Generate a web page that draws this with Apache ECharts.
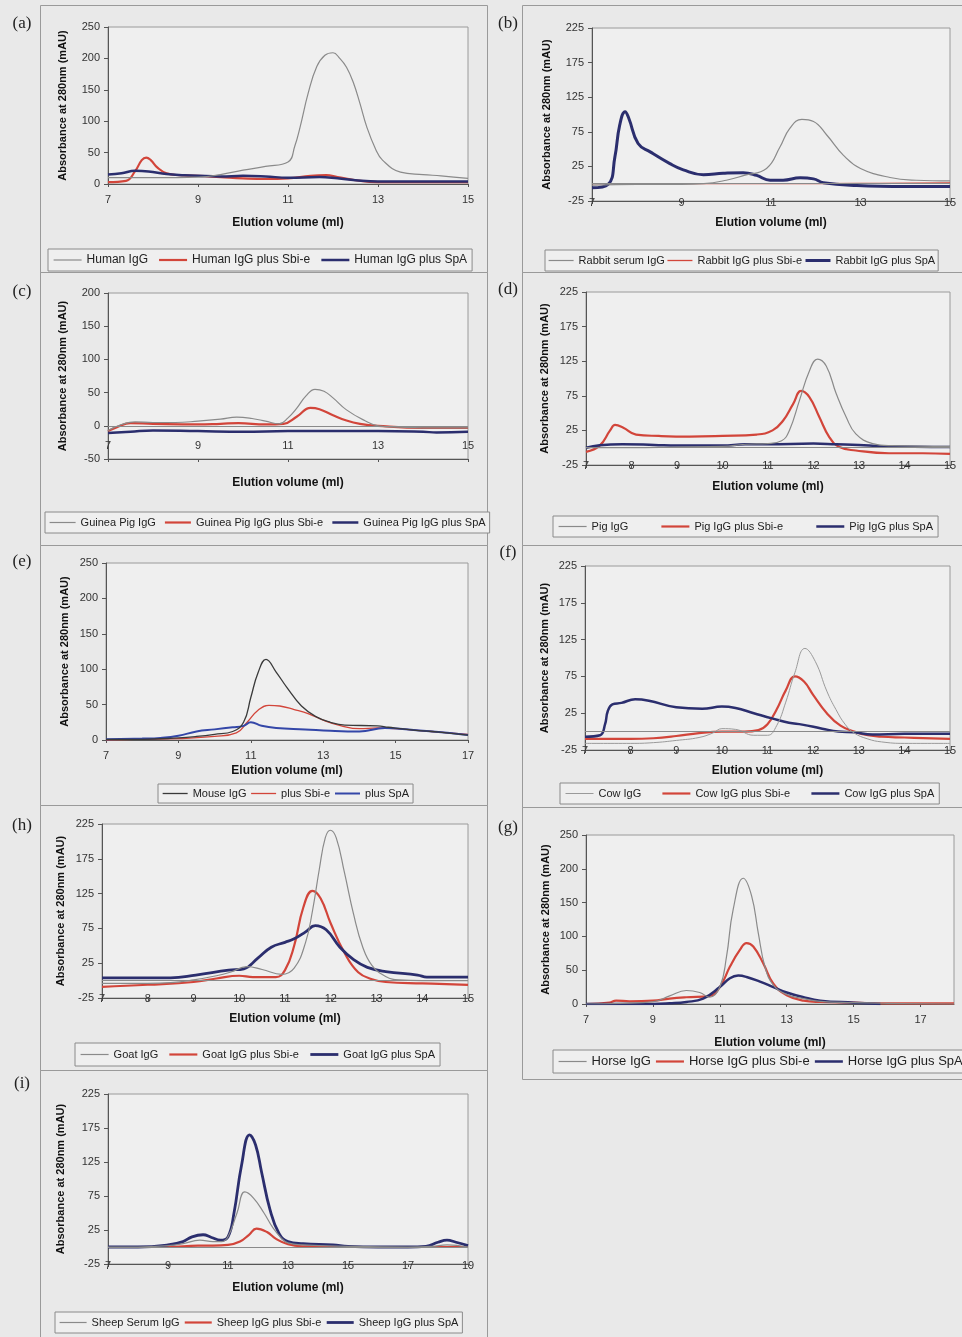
<!DOCTYPE html>
<html><head><meta charset="utf-8">
<script src="https://cdn.jsdelivr.net/npm/echarts@6/dist/echarts.min.js"></script>
<style>html,body{margin:0;padding:0;background:#e9e9e9;} #c{width:962px;height:1337px;}</style>
</head><body><div id="c"></div>
<script>
// ---------- tick labels ----------
const yTicks0to250 = [0, 50, 100, 150, 200, 250];
const yTicksM25to225 = [-25, 25, 75, 125, 175, 225];
const yTicksM50to200 = [-50, 0, 50, 100, 150, 200];
const xTicks7to15 = [7, 9, 11, 13, 15];
const xTicks7to15by1 = [7, 8, 9, 10, 11, 12, 13, 14, 15];
const xTicks7to17 = [7, 9, 11, 13, 15, 17];
const xTicks7to19 = [7, 9, 11, 13, 15, 17, 19];

// ---------- series names ----------
const aNames = ['Human IgG', 'Human IgG plus Sbi-e', 'Human IgG plus SpA'];
const bNames = ['Rabbit serum IgG', 'Rabbit IgG plus Sbi-e', 'Rabbit IgG plus SpA'];
const cNames = ['Guinea Pig IgG', 'Guinea Pig IgG plus Sbi-e', 'Guinea Pig IgG plus SpA'];
const dNames = ['Pig IgG', 'Pig IgG plus Sbi-e', 'Pig IgG plus SpA'];
const eNames = ['Mouse IgG', 'plus Sbi-e', 'plus SpA'];
const fNames = ['Cow IgG', 'Cow IgG plus Sbi-e', 'Cow IgG plus SpA'];
const hNames = ['Goat IgG', 'Goat IgG plus Sbi-e', 'Goat IgG plus SpA'];
const gNames = ['Horse IgG', 'Horse IgG plus Sbi-e', 'Horse IgG plus SpA'];
const iNames = ['Sheep Serum IgG', 'Sheep IgG plus Sbi-e', 'Sheep IgG plus SpA'];

// ---------- values [elution volume (ml), absorbance (mAU)] ----------
const a_igg = [[7,10],[8,10],[9,11],[9.5,15],[10,22],[10.5,28],[11,35],[11.15,60],[11.27,91],[11.45,145],[11.64,187],[11.82,205],[12,209],[12.15,200],[12.3,186],[12.45,162],[12.6,128],[12.75,91],[12.95,55],[13.1,38],[13.5,19],[14,15],[14.4,13],[15,9]];
const a_sbi = [[7,3],[7.4,5],[7.6,20],[7.75,38],[7.85,42],[7.95,38],[8.1,26],[8.3,17],[8.6,14],[9,13],[9.5,11],[10,9],[10.5,8],[11,9],[11.5,13],[11.85,14],[12.1,11],[12.5,6],[13,3],[14,3],[15,3]];
const a_spa = [[7,15],[7.3,17],[7.6,21],[7.9,20],[8.3,16],[8.7,14],[9,13],[9.5,12],[10,13],[10.5,12],[11,10],[11.7,11],[12.1,9],[12.5,6],[13,4],[14,4],[15,4]];

const b_igg = [[7,-2],[8,-1],[9,-1],[9.5,0],[10,5],[10.4,12],[10.9,22],[11.2,53],[11.42,80],[11.69,93],[11.95,90],[12.25,70],[12.62,41],[13,22],[13.66,9],[14.25,5],[15,4]];
const b_sbi = [[7,0],[9,0],[11,0],[13,0.5],[15,1]];
const b_spa = [[7,-6],[7.36,-1],[7.51,38],[7.62,85],[7.74,104],[7.82,95],[8.03,58],[8.3,46],[8.74,29],[9.04,20],[9.49,13],[9.93,15],[10.38,16],[10.68,12],[10.98,5],[11.27,5],[11.65,8.5],[11.95,7],[12.17,1.5],[12.92,-2.5],[14,-4],[15,-4]];

const c_igg = [[7,-7],[7.3,2],[7.6,6],[8,5],[8.5,5],[9,7],[9.5,10],[9.86,13],[10.2,11],[10.5,7],[10.8,3],[11,12],[11.2,27],[11.4,45],[11.6,55],[11.8,52],[12,42],[12.3,24],[12.7,8],[13,0],[13.5,-2],[14,-3],[15,-3]];
const c_sbi = [[7,-8],[7.2,-2],[7.5,4],[8,3],[9,2],[9.5,3],[9.9,4],[10.5,2],[10.9,3],[11.2,14],[11.5,27],[11.7,25],[12,16],[12.3,8],[12.6,3],[13,0],[14,-3],[15,-3]];
const c_spa = [[7,-11],[7.5,-9],[8,-7],[9,-8],[10,-9],[11,-8],[12,-8],[13,-8],[14,-9],[14.3,-10],[15,-9]];

const d_igg = [[7,0],[8,0],[9,1],[10,2],[10.5,5],[11,6],[11.3,10],[11.47,25],[11.69,68],[11.91,111],[12.09,128],[12.28,118],[12.5,78],[12.72,44],[12.93,20],[13.3,6],[13.7,3],[15,2]];
const d_sbi = [[7,-6],[7.3,3],[7.53,25],[7.64,33],[7.82,29],[8.1,19],[8.6,17],[9.28,16],[10,17],[10.75,19],[11.1,25],[11.33,39],[11.55,63],[11.73,82],[11.91,73],[12.13,44],[12.35,15],[12.57,1],[12.93,-4],[13.66,-8],[14.4,-8],[15,-9]];
const d_spa = [[7,0],[7.3,3.5],[7.8,5],[8.5,4],[9,3],[10,3],[10.5,5],[11,5],[12,6],[12.5,5],[13,4],[13.5,2],[15,1]];

const e_igg = [[7,1],[8,1],[9,3],[9.5,5],[10,8],[10.5,12],[10.8,25],[11,60],[11.2,95],[11.42,114],[11.7,96],[12,74],[12.4,48],[12.8,33],[13.2,25],[13.6,21],[14.5,20],[14.8,18],[15.5,14],[16,12],[17,7]];
const e_sbi = [[7,0],[8,1],[9,2],[10,5],[10.6,10],[10.9,25],[11.2,42],[11.5,49],[11.8,48],[12.2,43],[12.6,37],[13,28],[13.5,20],[14,16],[14.5,17],[15,16],[16,12],[17,8]];
const e_spa = [[7,1],[8,2],[8.5,3],[9,6],[9.5,12],[10,15],[10.5,18],[10.8,20],[11,25],[11.3,20],[11.7,17],[12.5,15],[13.2,13],[14,12],[14.7,17],[15.5,14],[16.5,10],[17,7]];

const f_igg = [[7,-16],[8,-16],[8.5,-15],[9,-12],[9.5,-8],[9.8,-2],[10,4],[10.3,3],[10.7,-5],[11,-5],[11.2,8],[11.4,40],[11.6,80],[11.82,113],[12.05,95],[12.3,55],[12.5,30],[12.7,10],[12.9,-2],[13.2,-10],[13.5,-14],[14,-16],[15,-16]];
const f_sbi = [[7,-10],[8,-10],[8.5,-9],[9,-6],[9.5,-2],[10,0],[10.5,0],[10.8,2],[11,10],[11.2,30],[11.4,56],[11.6,75],[11.8,68],[12,50],[12.3,25],[12.6,8],[12.9,0],[13.2,-5],[13.5,-7],[14,-8],[15,-10]];
const f_spa = [[7,-7],[7.33,-5],[7.44,10],[7.5,28],[7.6,37],[7.8,39],[8.1,44],[8.4,42],[9,33],[9.57,31],[10,34],[10.3,32],[10.7,25],[11.1,18],[11.47,12],[11.76,9.5],[12.2,4],[12.55,0],[12.9,-1],[13.3,-4],[14,-3],[15,-3]];

const h_igg = [[7,-4],[8,-4],[8.5,-3],[9,1],[9.5,7],[9.8,12],[10.17,20],[10.5,16],[10.93,9],[11.2,18],[11.45,55],[11.6,100],[11.75,160],[11.88,205],[11.99,216],[12.12,205],[12.3,155],[12.5,95],[12.7,48],[12.9,22],[13.2,6],[13.5,1],[14,0],[15,0]];
const h_sbi = [[7,-9],[8,-6],[9,-2],[9.5,3],[10,7],[10.3,5],[10.8,5],[11,15],[11.2,50],[11.4,105],[11.6,129],[11.78,118],[12,82],[12.3,40],[12.6,12],[12.9,2],[13.2,-2],[14,-4],[15,-6]];
const h_spa = [[7,4],[8.5,4],[9.05,8],[9.77,15],[10.1,17],[10.4,32],[10.7,48],[11,55],[11.2,60],[11.45,70],[11.66,79],[11.9,73],[12.2,48],[12.5,30],[12.8,19],[13.2,13],[13.9,8],[14.1,5],[15,5]];

const g_igg = [[7,0],[8,1],[9,3],[9.5,12],[10,20],[10.4,17],[10.7,10],[11,25],[11.2,70],[11.4,140],[11.7,186],[11.95,160],[12.15,105],[12.35,55],[12.6,28],[13,14],[13.5,8],[14,4],[15,2],[16,1],[18,0]];
const g_sbi = [[7,0],[7.7,2],[7.9,5],[8.3,4],[9,5],[9.5,8],[10,10],[10.7,12],[11,25],[11.3,55],[11.6,80],[11.8,90],[12,85],[12.3,60],[12.6,30],[13,13],[13.5,5],[14,3],[15,2],[16,1],[18,1]];
const g_spa = [[7,0],[9,0],[9.5,1],[10,3],[10.5,8],[11,25],[11.3,38],[11.55,42],[11.8,40],[12.2,33],[12.6,25],[13,17],[13.5,10],[14,5],[15,2],[15.8,0]];

const i_igg = [[7,0],[8,0],[9,2],[9.5,5],[10.06,10],[10.5,8],[10.8,8],[11,15],[11.3,50],[11.56,81],[11.85,72],[12.2,50],[12.5,28],[12.8,12],[13,6],[13.5,3],[15,1],[17,0],[17.8,1],[18.3,3],[19,0]];
const i_sbi = [[7,0],[9,0],[10,2],[10.5,2],[11,3],[11.4,8],[11.7,18],[11.95,27],[12.3,22],[12.6,12],[13,4],[13.5,1],[15,0],[19,0]];
const i_spa = [[7,0],[8,0],[9,3],[9.5,8],[9.8,15],[10.17,18],[10.45,14],[10.75,10],[11,15],[11.2,50],[11.45,120],[11.72,165],[11.92,150],[12.12,110],[12.4,55],[12.7,20],[13,8],[13.5,5],[14.5,3],[15,1],[16,0],[17,0],[17.6,1],[18,7],[18.3,10],[18.6,7],[19,2]];

// ---------- styles / layout ----------
const GRAY = '#8a8a8a', RED = '#d2453a', NAVY = '#2b2e6e', BLACK = '#3a3a3a', BLUE = '#3447a8';
const FONT = '"Liberation Sans", Arial, sans-serif';
const SERIF = '"Liberation Serif", "DejaVu Serif", serif';
const YNAME = 'Absorbance at 280nm (mAU)';
const XNAME = 'Elution volume (ml)';

const panels = [
  {label:'(a)', lab:[22,24], frame:[40,5,447,267], grid:[108,27,360,157], x:[7,15], xt:xTicks7to15, y:[0,250], yt:yTicks0to250,
   xm:10, xg:33, yg:40, zero:false, names:aNames, data:[a_igg,a_sbi,a_spa], w:[1.2,2.2,2.5], col:[GRAY,RED,NAVY],
   lg:{left:48, top:249, gap:10, iw:28, fs:12, pad:[5,5]}},
  {label:'(b)', lab:[508,24], frame:[522,5,440,267], grid:[592,28,358,173], x:[7,15], xt:xTicks7to15, y:[-25,225], yt:yTicksM25to225,
   xm:-4, xg:16, yg:40, zero:true, names:bNames, data:[b_igg,b_sbi,b_spa], w:[1.2,1.3,3], col:[GRAY,RED,NAVY],
   lg:{left:545, top:250, gap:2, iw:25, fs:11, pad:[5,3]}},
  {label:'(c)', lab:[22,292], frame:[40,272,447,273], grid:[108,293,360,166], x:[7,15], xt:xTicks7to15, y:[-50,200], yt:yTicksM50to200,
   xm:-19, xg:18, yg:40, zero:true, names:cNames, data:[c_igg,c_sbi,c_spa], w:[1.2,2.2,2.5], col:[GRAY,RED,NAVY],
   lg:{left:45, top:512, gap:8, iw:26, fs:11, pad:[5,4]}},
  {label:'(d)', lab:[508,290], frame:[522,272,440,273], grid:[586,292,364,173], x:[7,15], xt:xTicks7to15by1, y:[-25,225], yt:yTicksM25to225,
   xm:-5, xg:16, yg:36, zero:true, names:dNames, data:[d_igg,d_sbi,d_spa], w:[1.2,2.2,2.5], col:[GRAY,RED,NAVY],
   lg:{left:553, top:516, gap:32, iw:28, fs:11, pad:[5,5]}},
  {label:'(e)', lab:[22,562], frame:[40,545,447,260], grid:[106,563,362,177], x:[7,17], xt:xTicks7to17, y:[0,250], yt:yTicks0to250,
   xm:10, xg:25, yg:36, zero:false, names:eNames, data:[e_igg,e_sbi,e_spa], w:[1.3,1.3,2], col:[BLACK,RED,BLUE],
   lg:{left:158, top:784, gap:4, iw:25, fs:11, pad:[4,4]}},
  {label:'(f)', lab:[508,553], frame:[522,545,440,262], grid:[585,566,365,184], x:[7,15], xt:xTicks7to15by1, y:[-25,225], yt:yTicksM25to225,
   xm:-5, xg:15, yg:35, zero:true, names:fNames, data:[f_igg,f_sbi,f_spa], w:[1,2.2,2.5], col:['#9a9a9a',RED,NAVY],
   lg:{left:560, top:783, gap:20, iw:28, fs:11, pad:[5,5]}},
  {label:'(h)', lab:[22,826], frame:[40,805,447,265], grid:[102,824,366,174], x:[7,15], xt:xTicks7to15by1, y:[-25,225], yt:yTicksM25to225,
   xm:-5, xg:15, yg:36, zero:true, names:hNames, data:[h_igg,h_sbi,h_spa], w:[1.2,2.2,2.8], col:[GRAY,RED,NAVY],
   lg:{left:75, top:1043, gap:10, iw:28, fs:11, pad:[6,5]}},
  {label:'(g)', lab:[508,828], frame:[522,807,440,272], grid:[586,835,368,169], x:[7,18], xt:xTicks7to17, y:[0,250], yt:yTicks0to250,
   xm:10, xg:33, yg:35, zero:false, names:gNames, data:[g_igg,g_sbi,g_spa], w:[1.2,2.2,2.5], col:[GRAY,RED,NAVY],
   lg:{left:553, top:1050, gap:4, iw:28, fs:13, pad:[5,5], width:560}},
  {label:'(i)', lab:[22,1084], frame:[40,1070,447,267], grid:[108,1094,360,170], x:[7,19], xt:xTicks7to19, y:[-25,225], yt:yTicksM25to225,
   xm:-4, xg:18, yg:42, zero:true, names:iNames, data:[i_igg,i_sbi,i_spa], w:[1.2,2.2,2.8], col:[GRAY,RED,NAVY],
   lg:{left:55, top:1312, gap:4, iw:27, fs:11, pad:[5,4]}}
];

const option = {
  backgroundColor: '#e9e9e9',
  animation: false,
  textStyle: {fontFamily: FONT},
  grid: [], xAxis: [], yAxis: [], series: [], legend: [], graphic: []
};

panels.forEach((p, k) => {
  option.grid.push({left:p.grid[0], top:p.grid[1], width:p.grid[2], height:p.grid[3], containLabel:false, outerBoundsMode:'none',
    show:true, backgroundColor:'#efefef', borderColor:'#9a9a9a', borderWidth:1});
  option.xAxis.push({type:'value', gridIndex:k, min:p.x[0], max:p.x[1],
    name:XNAME, nameLocation:'middle', nameGap:p.xg,
    nameTextStyle:{fontFamily:FONT, fontWeight:'bold', fontSize:12, color:'#111'},
    axisLine:{show:true, onZero:false, lineStyle:{color:'#555', width:1}},
    axisTick:{show:true, length:3, customValues:p.xt, lineStyle:{color:'#555'}},
    axisLabel:{customValues:p.xt, margin:p.xm, fontSize:11, color:'#333', fontFamily:FONT},
    splitLine:{show:false}});
  option.yAxis.push({type:'value', gridIndex:k, min:p.y[0], max:p.y[1],
    name:YNAME, nameLocation:'middle', nameGap:p.yg, nameRotate:90,
    nameTextStyle:{fontFamily:FONT, fontWeight:'bold', fontSize:11, color:'#111'},
    axisLine:{show:true, lineStyle:{color:'#555', width:1}},
    axisTick:{show:true, length:4, customValues:p.yt, lineStyle:{color:'#555'}},
    axisLabel:{customValues:p.yt, margin:8, fontSize:11, color:'#333', fontFamily:FONT},
    splitLine:{show:false}});
  p.data.forEach((d, j) => {
    const s = {type:'line', name:p.names[j], xAxisIndex:k, yAxisIndex:k, data:d,
      symbol:'none', smooth:0.45, silent:true,
      lineStyle:{color:p.col[j], width:p.w[j]}, itemStyle:{color:p.col[j]}, z: 3 + (j === 0 ? 1 : 0)};
    if (j === 0 && p.zero) {
      s.markLine = {silent:true, symbol:'none', label:{show:false},
        lineStyle:{color:'#8a8a8a', width:1, type:'solid'}, data:[{yAxis:0}]};
    }
    option.series.push(s);
  });
  const lg = {data:p.names.map((n, j) => ({name:n, lineStyle:{width:p.w[j], color:p.col[j]}})),
    left:p.lg.left, top:p.lg.top, orient:'horizontal',
    itemGap:p.lg.gap, itemWidth:p.lg.iw, itemHeight:10, padding:p.lg.pad,
    itemStyle:{opacity:0, borderWidth:0},
    borderColor:'#8a8a8a', borderWidth:1, backgroundColor:'#efefef', selectedMode:false,
    textStyle:{fontFamily:FONT, fontSize:p.lg.fs, color:'#222'}};
  if (p.lg.width) lg.width = p.lg.width;
  option.legend.push(lg);
  option.graphic.push({type:'rect', silent:true, shape:{x:p.frame[0]+0.5, y:p.frame[1]+0.5, width:p.frame[2], height:p.frame[3]},
    style:{fill:'none', stroke:'#9a9a9a', lineWidth:1}, z:-1});
  option.graphic.push({type:'text', silent:true, x:p.lab[0], y:p.lab[1],
    style:{text:p.label, font:'17px ' + SERIF, fill:'#222', align:'center', verticalAlign:'middle'}});
});

const chart = echarts.init(document.getElementById('c'), null, {renderer:'canvas'});
chart.setOption(option);
</script></body></html>
